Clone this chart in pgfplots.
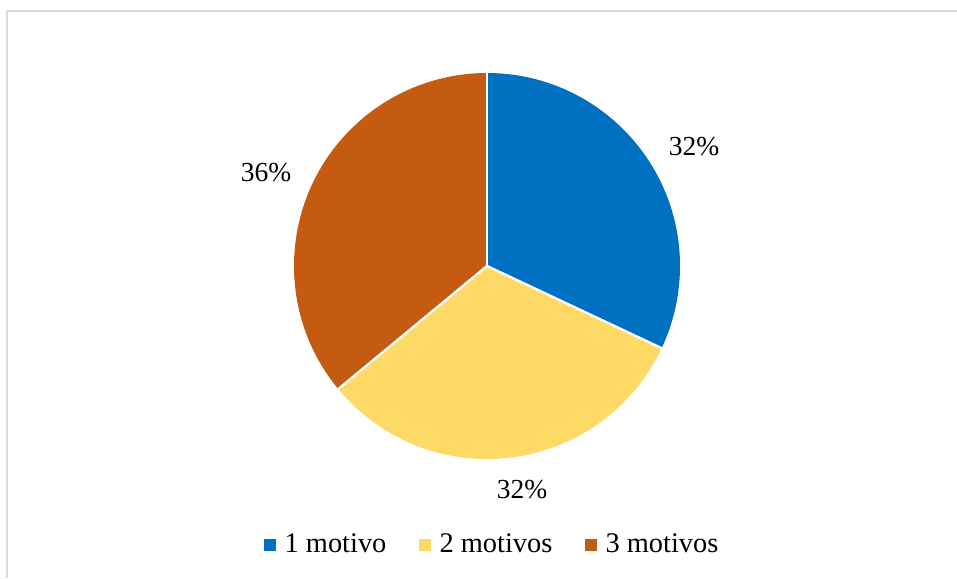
\documentclass[border=0pt]{standalone}
\usepackage{fontspec}
\setmainfont{Liberation Serif}
\usepackage{pgfplots}
\pgfplotsset{compat=1.18}
\definecolor{c1}{HTML}{0070C0}
\definecolor{c2}{HTML}{FFD966}
\definecolor{c3}{HTML}{C55A11}
\definecolor{bordc}{HTML}{D9D9D9}
\newcommand{\lblfont}{\fontsize{13.75}{16}\selectfont}
\newcommand{\legfont}{\fontsize{14.2}{16}\selectfont}
\begin{document}
\begin{tikzpicture}
\useasboundingbox (0,0) rectangle (478.5pt,289pt);
\begin{axis}[
  at={(0,0)}, anchor=south west,
  hide axis, scale only axis,
  width=478.5pt, height=289pt,
  xmin=0, xmax=957, ymin=0, ymax=578,
  y dir=reverse,
  clip=true,
  legend columns=3,
  legend style={at={(axis description cs:0.5135,0.057)}, anchor=center,
    draw=none, fill=none, font=\legfont,
    nodes={inner sep=0pt},
    /tikz/every odd column/.append style={column sep=4.5pt},
    /tikz/every even column/.append style={column sep=16.5pt}},
  legend image code/.code={\fill[#1] (0pt,-2.6pt) rectangle (5.2pt,2.6pt);},
]
% border (right and bottom edges lie outside the picture)
\draw[bordc, line width=1pt] (axis cs:7,578) -- (axis cs:7,10.5) -- (axis cs:957,10.5);
% data (percent): 1 motivo = 32, 2 motivos = 32, 3 motivos = 36
\def\R{96.5pt}
\fill[c1] (axis cs:487,266) -- ++(90:\R) arc[start angle=90, end angle={90-3.6*32}, radius=\R] -- cycle;
\fill[c2] (axis cs:487,266) -- ++({90-3.6*32}:\R) arc[start angle={90-3.6*32}, end angle={90-3.6*64}, radius=\R] -- cycle;
\fill[c3] (axis cs:487,266) -- ++({90-3.6*64}:\R) arc[start angle={90-3.6*64}, end angle={90-3.6*100}, radius=\R] -- cycle;
\draw[white, line width=1.2pt] (axis cs:487,266) -- ++(90:\R);
\draw[white, line width=1.2pt] (axis cs:487,266) -- ++({90-3.6*32}:\R);
\draw[white, line width=1.2pt] (axis cs:487,266) -- ++({90-3.6*64}:\R);
% labels
\node[font=\lblfont] at (axis cs:694,147) {32\%};
\node[font=\lblfont] at (axis cs:522,490) {32\%};
\node[font=\lblfont] at (axis cs:266,173) {36\%};
\addlegendimage{c1}\addlegendentry{1 motivo}
\addlegendimage{c2}\addlegendentry{2 motivos}
\addlegendimage{c3}\addlegendentry{3 motivos}
\end{axis}
\end{tikzpicture}
\end{document}
